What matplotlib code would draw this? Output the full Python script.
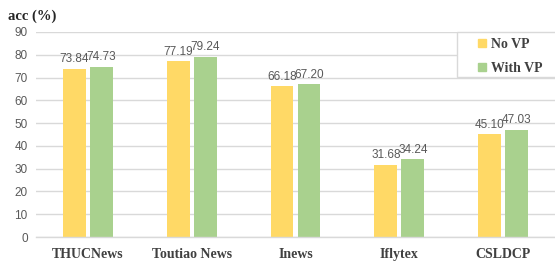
import matplotlib.pyplot as plt
import numpy as np
from matplotlib.patches import Patch, Rectangle

# data
datasets = ["THUCNews", "Toutiao News", "Inews", "Iflytex", "CSLDCP"]
no_vp = [73.84, 77.19, 66.18, 31.68, 45.10]
with_vp = [74.73, 79.24, 67.20, 34.24, 47.03]
y_ticks = [0, 10, 20, 30, 40, 50, 60, 70, 80, 90]

yellow = "#FFD966"
green = "#A9D18E"
grey_text = "#595959"

W, H = 555, 262
fig = plt.figure(figsize=(W / 100, H / 100), dpi=100)
ax = fig.add_axes([36 / W, 25 / H, 519 / W, 205 / H])

x = np.arange(len(datasets))
w = 0.22
off = 0.13
b1 = ax.bar(x - off, no_vp, w, color=yellow, zorder=2)
b2 = ax.bar(x + off, with_vp, w, color=green, zorder=2)

for bars, vals in ((b1, no_vp), (b2, with_vp)):
    for rect, v in zip(bars, vals):
        ax.text(rect.get_x() + rect.get_width() / 2, v + 1.5, "%.2f" % v,
                ha="center", va="bottom", fontsize=8.5, color=grey_text,
                family="Liberation Sans")

ax.set_xlim(-0.5, len(datasets) - 0.5)
ax.set_ylim(0, 90)
ax.set_yticks(y_ticks)
ax.set_yticklabels([str(t) for t in y_ticks], fontsize=8.5, color=grey_text,
                   family="Liberation Sans")
ax.set_xticks(x)
ax.set_xticklabels(datasets, fontsize=10, fontweight="bold", color="#404040",
                   family="Liberation Serif")
ax.tick_params(axis="both", length=0)
ax.tick_params(axis="x", pad=8)
ax.tick_params(axis="y", pad=6)
ax.grid(axis="y", color="#D9D9D9", linewidth=1, zorder=0)
for s in ("top", "right", "left"):
    ax.spines[s].set_visible(False)
ax.spines["bottom"].set_color("#D9D9D9")
ax.spines["bottom"].set_linewidth(1)

fig.text(8 / W, 1 - 16 / H, "acc (%)", fontsize=10.5, fontweight="bold",
         family="Liberation Serif", color="#262626", va="center")

# legend box runs off the right edge, like the original
fig.patches.append(Rectangle((457 / W, 1 - 77 / H), 110 / W, 45 / H,
                             transform=fig.transFigure, facecolor="white",
                             edgecolor="#D9D9D9", linewidth=1, zorder=3))
handles = [Patch(color=yellow, label="No VP"), Patch(color=green, label="With VP")]
leg = fig.legend(handles=handles, loc="upper left",
                 bbox_to_anchor=(473 / W, 1 - 33 / H),
                 prop={"family": "Liberation Serif", "weight": "bold", "size": 10},
                 handlelength=0.6, handleheight=0.6, handletextpad=0.35,
                 labelspacing=0.8, borderpad=0.35, frameon=False,
                 borderaxespad=0)
leg.set_zorder(4)
for t in leg.get_texts():
    t.set_color("#404040")

fig.savefig("out.png", dpi=100)
